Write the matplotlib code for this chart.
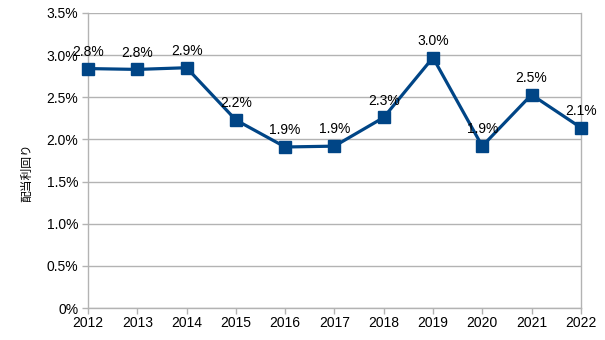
import matplotlib.pyplot as plt
from matplotlib.ticker import FuncFormatter, MultipleLocator

# yield data
years = [2012, 2013, 2014, 2015, 2016, 2017, 2018, 2019, 2020, 2021, 2022]
yields = [2.84, 2.83, 2.85, 2.23, 1.91, 1.92, 2.26, 2.97, 1.92, 2.53, 2.14]
labels = ["2.8%", "2.8%", "2.9%", "2.2%", "1.9%", "1.9%", "2.3%", "3.0%", "1.9%", "2.5%", "2.1%"]

plt.rcParams["font.family"] = ["Liberation Sans", "Noto Sans CJK JP", "DejaVu Sans"]

fig = plt.figure(figsize=(6.05, 3.4), dpi=100)
ax = fig.add_axes([0.1455, 0.094, 0.8145, 0.868])

line_color = "#004586"
grid_color = "#b3b3b3"

ax.plot(years, yields, color=line_color, linewidth=2.3, marker="s",
        markersize=8.5, markerfacecolor=line_color, markeredgecolor=line_color,
        zorder=3, clip_on=False)

for x, y, t in zip(years, yields, labels):
    ax.annotate(t, (x, y), xytext=(0, 7), textcoords="offset points",
                ha="center", va="bottom", fontsize=10, color="black", zorder=4)

ax.set_xlim(2012, 2022)
ax.set_ylim(0, 3.5)
ax.set_xticks(years)
ax.yaxis.set_major_locator(MultipleLocator(0.5))
ax.yaxis.set_major_formatter(FuncFormatter(lambda v, p: "0%" if v == 0 else f"{v:.1f}%"))

ax.grid(axis="y", color=grid_color, linewidth=1)
ax.set_axisbelow(True)
for side in ["left", "right", "bottom"]:
    ax.spines[side].set_color(grid_color)
    ax.spines[side].set_linewidth(1)
ax.spines["top"].set_visible(False)

ax.tick_params(axis="both", colors=grid_color, labelcolor="black", labelsize=10,
               length=4, width=1, direction="out")
ax.tick_params(axis="x", pad=2)
ax.tick_params(axis="y", pad=3)

ax.set_ylabel("配当利回り", fontsize=8.5, family=["Noto Sans CJK JP", "DejaVu Sans"])
ax.yaxis.set_label_coords(-0.111, 0.46)

fig.savefig("out.png", dpi=100)
